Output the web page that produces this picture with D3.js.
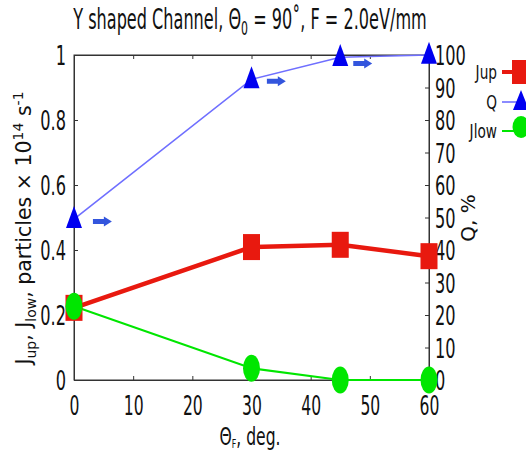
<!DOCTYPE html>
<html><head><meta charset="utf-8">
<script src="https://cdn.jsdelivr.net/npm/d3@7"></script>
<style>
html,body{margin:0;padding:0;background:#fff;}
svg{display:block;font-family:"DejaVu Sans",sans-serif;}
</style></head>
<body>
<svg id="chart" width="526" height="452"></svg>
<script>
// ---- data ----
const angles = [0, 30, 45, 60];
const jup = [0.222, 0.409, 0.416, 0.381];
const jlow = [0.227, 0.036, 0.0, 0.0];
const qPercent = [49.5, 92.5, 99.3, 100];
const xTicks = [0, 10, 20, 30, 40, 50, 60];
const leftTicks = [0, 0.2, 0.4, 0.6, 0.8, 1];
const leftTickLabels = ["0", "0.2", "0.4", "0.6", "0.8", "1"];
const rightTicks = [0, 10, 20, 30, 40, 50, 60, 70, 80, 90, 100];
// arrows pointing to the right axis (Q series), data units
const arrowX0 = [3.2, 32.6, 47.2];
const arrowX1 = [6.4, 35.8, 50.4];
const arrowQ = [48.8, 91.9, 97.4];
const legendNames = ["Jup", "Q", "Jlow"];

// ---- layout ----
const L = 74, R = 429, T = 55, B = 380;
const SX = 0.6; // horizontal condensing of text
const svg = d3.select("#chart");

const x = d3.scaleLinear().domain([0, 60]).range([L, R]);
const yL = d3.scaleLinear().domain([0, 1]).range([B, T]);
const yR = d3.scaleLinear().domain([0, 100]).range([B, T]);

const axisCol = "#333";
const red = "#e8190f", green = "#00e600", blue = "#0000f0", qLine = "#6f6fff", arrowCol = "#3355dd";

// frame
svg.append("rect").attr("x", L).attr("y", T).attr("width", R - L).attr("height", B - T)
  .attr("fill", "none").attr("stroke", axisCol).attr("stroke-width", 1);

function styleAxis(g, fs) {
  g.select(".domain").attr("stroke", axisCol);
  g.selectAll(".tick line").attr("stroke", axisCol);
  g.selectAll(".tick text").attr("font-size", fs).attr("fill", "#111")
    .attr("font-family", "DejaVu Sans, sans-serif");
}

// bottom axis
const gx = svg.append("g").attr("transform", `translate(0,${B})`)
  .call(d3.axisBottom(x).tickValues(xTicks).tickSizeInner(-4).tickSizeOuter(0).tickPadding(17).tickFormat(d3.format("d")));
styleAxis(gx, 26);
gx.selectAll(".tick text").attr("transform", `scale(${SX},1)`);
// top ticks
svg.append("g").attr("transform", `translate(0,${T})`)
  .call(d3.axisTop(x).tickValues(xTicks).tickSizeInner(-4).tickSizeOuter(0).tickFormat(""))
  .call(g => { g.select(".domain").attr("stroke", axisCol); g.selectAll("line").attr("stroke", axisCol); });

// left axis
const gl = svg.append("g").attr("transform", `translate(${L},0)`)
  .call(d3.axisLeft(yL).tickValues(leftTicks).tickSizeInner(-4).tickSizeOuter(0).tickPadding(8)
    .tickFormat((d, i) => leftTickLabels[i]));
styleAxis(gl, 27);
gl.selectAll(".tick text").attr("transform", `scale(${SX},1)`).attr("x", -8 / SX).attr("dy", "0.36em");

// right axis
const gr = svg.append("g").attr("transform", `translate(${R},0)`)
  .call(d3.axisRight(yR).tickValues(rightTicks).tickSizeInner(-4).tickSizeOuter(0).tickPadding(6).tickFormat(d3.format("d")));
styleAxis(gr, 27);
gr.selectAll(".tick text").attr("transform", `scale(${SX},1)`).attr("x", 6 / SX).attr("dy", "0.36em");

// ---- series ----
const idx = d3.range(angles.length);

svg.append("path").attr("d", d3.line().x(i => x(angles[i])).y(i => yR(qPercent[i]))(idx))
  .attr("fill", "none").attr("stroke", qLine).attr("stroke-width", 1.6);
svg.append("path").attr("d", d3.line().x(i => x(angles[i])).y(i => yL(jlow[i]))(idx))
  .attr("fill", "none").attr("stroke", green).attr("stroke-width", 2);
svg.append("path").attr("d", d3.line().x(i => x(angles[i])).y(i => yL(jup[i]))(idx))
  .attr("fill", "none").attr("stroke", red).attr("stroke-width", 4.5);

// markers
const SQW = 17, SQH = 26;
svg.append("g").selectAll("rect").data(idx).join("rect")
  .attr("x", i => x(angles[i]) - SQW / 2).attr("y", i => yL(jup[i]) - SQH / 2)
  .attr("width", SQW).attr("height", SQH).attr("fill", red);
svg.append("g").selectAll("ellipse").data(idx).join("ellipse")
  .attr("cx", i => x(angles[i])).attr("cy", i => yL(jlow[i]))
  .attr("rx", 8.5).attr("ry", 13.5).attr("fill", green);
function tri(cx, cy, w, h) {
  return `M${cx},${cy - h * 0.6}L${cx + w / 2},${cy + h * 0.4}L${cx - w / 2},${cy + h * 0.4}Z`;
}
svg.append("g").selectAll("path").data(idx).join("path")
  .attr("d", i => tri(x(angles[i]), yR(qPercent[i]), 16, 22)).attr("fill", blue);

// arrows
function arrow(x0, x1, y) {
  const h = 5, hw = 10;
  const xm = x1 - 8;
  return `M${x0},${y - h / 2}L${xm},${y - h / 2}L${xm},${y - hw / 2}L${x1},${y}L${xm},${y + hw / 2}L${xm},${y + h / 2}L${x0},${y + h / 2}Z`;
}
svg.append("g").selectAll("path").data(d3.range(arrowX0.length)).join("path")
  .attr("d", i => arrow(x(arrowX0[i]), x(arrowX1[i]), yR(arrowQ[i]))).attr("fill", arrowCol);

// ---- text ----
function ctext(xp, yp, fs, anchor, sx) {
  return svg.append("text").attr("transform", `translate(${xp},${yp}) scale(${sx},1)`)
    .attr("font-size", fs).attr("text-anchor", anchor).attr("fill", "#111");
}
// title
const t = ctext(250, 29, 28, "middle", 0.575);
t.append("tspan").text("Y shaped Channel, Θ");
t.append("tspan").attr("font-size", 19).attr("dy", 6).text("0");
t.append("tspan").attr("dy", -6).text(" = 90˚, F = 2.0eV/mm");

// x label
const xl = ctext(250, 445, 24, "middle", 0.65);
xl.append("tspan").text("Θ");
xl.append("tspan").attr("font-size", 12).attr("dy", 3).text("F");
xl.append("tspan").attr("dy", -3).text(", deg.");

// left label (rotated)
const yl = svg.append("text").attr("transform", `translate(31,228) rotate(-90)`)
  .attr("font-size", 20.5).attr("text-anchor", "middle").attr("fill", "#111");
yl.append("tspan").text("J");
yl.append("tspan").attr("font-size", 14).attr("dy", 5).text("up");
yl.append("tspan").attr("dy", -5).text(", J");
yl.append("tspan").attr("font-size", 14).attr("dy", 5).text("low");
yl.append("tspan").attr("dy", -5).text(", particles × 10");
yl.append("tspan").attr("font-size", 14).attr("dy", -8).text("14");
yl.append("tspan").attr("dy", 8).text(" s");
yl.append("tspan").attr("font-size", 14).attr("dy", -8).text("-1");

// right label
svg.append("text").attr("transform", `translate(475,218) rotate(-90)`)
  .attr("font-size", 20).attr("text-anchor", "middle").attr("fill", "#111").text("Q, %");

// legend
const legY = [72, 102, 131];
const legCol = [red, qLine, green];
const legW = [4, 1.6, 2];
legendNames.forEach((n, i) => {
  ctext(497, legY[i] + 7, 19, "end", 0.72).text(n);
  svg.append("line").attr("x1", 502).attr("x2", 520).attr("y1", legY[i]).attr("y2", legY[i])
    .attr("stroke", legCol[i]).attr("stroke-width", legW[i]);
});
svg.append("rect").attr("x", 512).attr("y", legY[0] - 12).attr("width", SQW).attr("height", 24).attr("fill", red);
svg.append("path").attr("d", tri(521, legY[1], 16, 20)).attr("fill", blue);
svg.append("ellipse").attr("cx", 521).attr("cy", legY[2] - 4).attr("rx", 8.5).attr("ry", 11).attr("fill", green);
</script>
</body></html>
